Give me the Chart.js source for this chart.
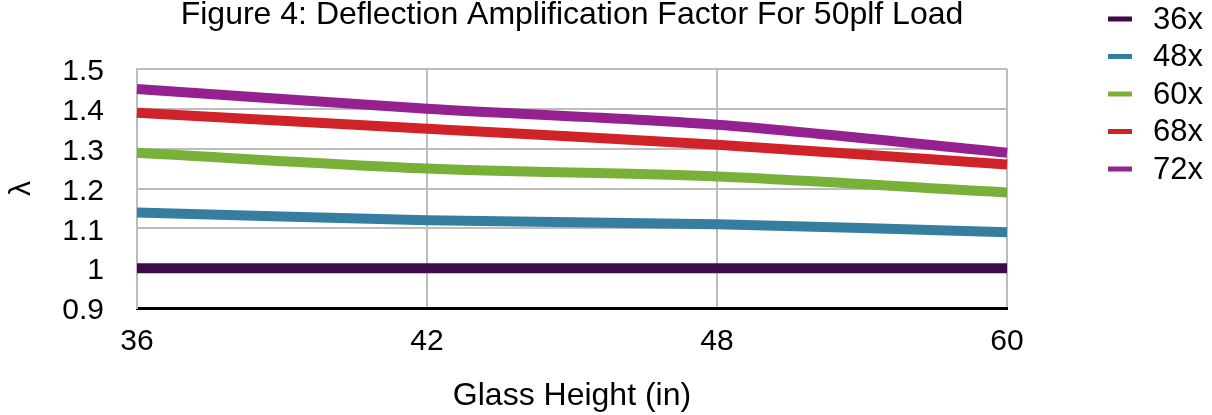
<!DOCTYPE html>
<html>
<head>
<meta charset="utf-8">
<script src="https://cdn.jsdelivr.net/npm/chart.js@4"></script>
<style>
  html, body { margin: 0; padding: 0; background: #fff; }
  #caja { width: 1212px; height: 415px; }
</style>
</head>
<body>
<div id="caja"><canvas id="grafico" width="1212" height="415"></canvas></div>
<script>
// datos
let alturas = ['36', '42', '48', '60']
let series = ['36x', '48x', '60x', '68x', '72x']
let v36 = [1.00, 1.00, 1.00, 1.00]
let v48 = [1.14, 1.12, 1.11, 1.09]
let v60 = [1.29, 1.25, 1.23, 1.19]
let v68 = [1.39, 1.35, 1.31, 1.26]
let v72 = [1.45, 1.40, 1.36, 1.29]
let colores = ['#3f0a48', '#357ea0', '#79b03a', '#d02229', '#952090']

let fuente = "'Liberation Sans', Arial, Helvetica, sans-serif"
Chart.defaults.font.family = fuente
Chart.defaults.color = '#000'

let valores = [v36, v48, v60, v68, v72]
let datasets = series.map((nombre, i) => ({
  label: nombre,
  data: valores[i],
  borderColor: colores[i],
  backgroundColor: colores[i],
  borderWidth: 10,
  pointRadius: 0,
  tension: 0.3,
  fill: false
}))

// leyenda dibujada a mano a la derecha
const leyenda = {
  id: 'leyenda',
  afterDraw(chart){
    let ctx = chart.ctx
    ctx.save()
    ctx.font = '31px ' + fuente
    ctx.textBaseline = 'middle'
    chart.data.datasets.forEach((ds, i) => {
      let y = 19 + i * 37.5
      ctx.fillStyle = ds.borderColor
      ctx.fillRect(1108, y - 2.5, 24, 5)
      ctx.fillStyle = '#000'
      ctx.fillText(ds.label, 1153, y + 1)
    })
    ctx.restore()
  }
}

let grafico = document.getElementById('grafico').getContext('2d')

new Chart(grafico, {
  type: 'line',
  data: { labels: alturas, datasets: datasets },
  plugins: [leyenda],
  options: {
    responsive: false,
    animation: false,
    layout: { padding: { left: 0, right: 205, top: 0, bottom: 0 } },
    plugins: {
      legend: { display: false },
      tooltip: { enabled: false },
      title: {
        display: true,
        text: 'Figure 4: Deflection Amplification Factor For 50plf Load',
        fullSize: false,
        font: { size: 32, weight: 'normal', lineHeight: 0.8 },
        padding: { top: 2, bottom: 41.4 }
      }
    },
    scales: {
      x: {
        offset: false,
        afterFit: (s) => { s.height = 107 },
        grid: { color: '#bdbdbd', lineWidth: 2, drawTicks: false },
        border: { color: '#000', width: 3 },
        ticks: { font: { size: 30 }, padding: 16, maxRotation: 0 },
        title: { display: true, text: 'Glass Height (in)', font: { size: 32 }, padding: { top: 0, bottom: 0 } }
      },
      y: {
        min: 0.9,
        max: 1.5,
        afterFit: (s) => { s.width = 137 },
        grid: { color: '#bdbdbd', lineWidth: 2, drawTicks: false },
        border: { color: '#bdbdbd', width: 2 },
        ticks: {
          stepSize: 0.1,
          font: { size: 30 },
          padding: 33,
          labelOffset: 3,
          callback: (v) => String(Math.round(v * 10) / 10)
        },
        title: { display: true, text: 'λ', font: { size: 30 }, padding: { top: 4, bottom: 0 } }
      }
    }
  }
})
</script>
</body>
</html>
